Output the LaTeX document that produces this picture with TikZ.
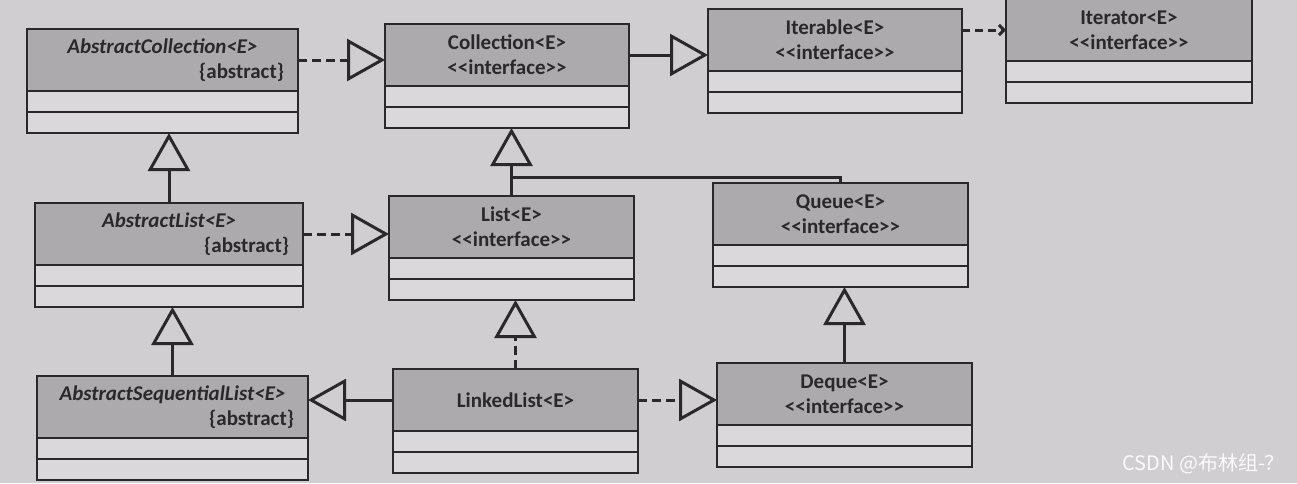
\documentclass[tikz,border=0pt]{standalone}
\usepackage{fontspec}
\setmainfont{Carlito}
\newfontfamily\cjkfont{Noto Sans CJK SC}
\usepackage{tikz}
\usetikzlibrary{arrows.meta}
\usetikzlibrary{positioning}
\definecolor{paper}{RGB}{208,206,208}
\definecolor{headgray}{RGB}{172,170,172}
\definecolor{rowgray}{RGB}{218,216,218}
\definecolor{ink}{RGB}{42,40,42}
\newcommand\iface{<\kern0pt<interface>\kern0pt>}

\begin{document}
\begin{tikzpicture}[x=0.5pt,y=-0.5pt]
        \tikzset{cls/.style = {draw=ink,line width=0.8pt,fill=headgray,outer sep=0pt,anchor=north west,minimum height=31pt,inner xsep=7pt,inner ysep=0pt,text width=#1,align=center,text=ink,font=\fontsize{10.5}{12.5}\selectfont\bfseries}}
        \tikzset{cpt/.style = {draw=ink,line width=0.8pt,fill=rowgray,outer sep=0pt,inner sep=0pt,minimum width=#1,minimum height=10.5pt}}
        \tikzset{edge/.style = {draw=ink,line width=1.5pt,-{Triangle[open,length=19pt,width=21pt]}}}
        \tikzset{impl/.style = {edge,dash pattern=on 4.5pt off 2.5pt}}
        \tikzset{uses/.style = {draw=ink,line width=1.5pt,dash pattern=on 4pt off 2.5pt,-{Straight Barb[length=2.5pt,width=5pt]}}}
        \useasboundingbox (0,0) rectangle (1297,483);
        \fill[paper] (0,0) rectangle (1297,483);
        \node[cls=121.5pt] (acoll) at (27,29) {{\itshape AbstractCollection<E>}\\\hspace*{\fill}\{abstract\}};
        \node[cls=108pt] (coll) at (385,24) {Collection<E>\\\iface};
        \node[cls=113pt] (itbl) at (708,9) {Iterable<E>\\\iface};
        \node[cls=109pt] (itor) at (1006,-1) {Iterator<E>\\\iface};
        \node[cls=120pt] (al) at (35,203) {{\itshape AbstractList<E>}\\\hspace*{\fill}\{abstract\}};
        \node[cls=108.5pt] (list) at (389,196) {List<E>\\\iface};
        \node[cls=113.5pt] (queue) at (713,183) {Queue<E>\\\iface};
        \node[cls=121.5pt] (asl) at (37,376) {{\itshape AbstractSequentialList<E>}\\\hspace*{\fill}\{abstract\}};
        \node[cls=108.5pt] (ll) at (393,369) {LinkedList<E>};
        \node[cls=113.5pt] (deque) at (717,363) {Deque<E>\\\iface};
        \foreach \n/\w in {acoll/135.5pt,coll/122pt,itbl/127pt,itor/123pt,al/134pt,list/122.5pt,queue/127.5pt,asl/135.5pt,ll/122.5pt,deque/127.5pt} {
            \node[cpt=\w,below=0pt of \n] (\n-a) {};
            \node[cpt=\w,below=0pt of \n-a] (\n-b) {};
        }
        \draw[impl] (acoll.east) -- (acoll.east -| coll.west);
        \draw[edge] (coll.east) -- (coll.east -| itbl.west);
        \draw[uses] (itor.west -| itbl.east) -- (itor.west);
        \draw[edge] (al.north) -- (al.north |- acoll-b.south);
        \draw[impl] (al.east) -- (al.east -| list.west);
        \draw[edge] (list.north) -- (list.north |- coll-b.south);
        \coordinate (qjoin) at (list.north |- 0,177);
        \draw[draw=ink,line width=1.5pt] (queue.north) |- (qjoin);
        \draw[edge] (asl.north) -- (asl.north |- al-b.south);
        \draw[edge] (ll.west) -- (ll.west -| asl.east);
        \draw[impl] (ll.north) -- (ll.north |- list-b.south);
        \draw[impl] (ll.east) -- (ll.east -| deque.west);
        \draw[edge] (deque.north) -- (deque.north |- queue-b.south);

    \node[anchor=east,text=white!90!paper,font=\cjkfont\fontsize{10}{12}\selectfont] (mark) at (1292,464) {CSDN @布林组-？};
    \end{tikzpicture}
\end{document}
